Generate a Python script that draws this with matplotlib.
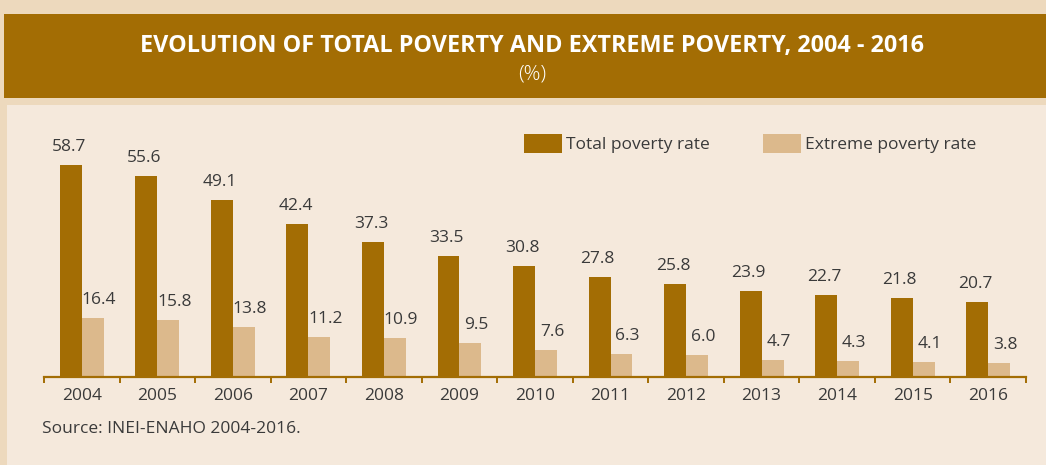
import matplotlib
matplotlib.use("Agg")
import matplotlib.pyplot as plt
from matplotlib.patches import Rectangle
import numpy as np

years = ["2004", "2005", "2006", "2007", "2008", "2009", "2010",
         "2011", "2012", "2013", "2014", "2015", "2016"]
total_poverty = [58.7, 55.6, 49.1, 42.4, 37.3, 33.5, 30.8, 27.8, 25.8, 23.9, 22.7, 21.8, 20.7]
extreme_poverty = [16.4, 15.8, 13.8, 11.2, 10.9, 9.5, 7.6, 6.3, 6.0, 4.7, 4.3, 4.1, 3.8]

title = "EVOLUTION OF TOTAL POVERTY AND EXTREME POVERTY, 2004 - 2016"
subtitle = "(%)"
legend_labels = ["Total poverty rate", "Extreme poverty rate"]
source = "Source: INEI-ENAHO 2004-2016."

C_TOTAL = "#A36D04"
C_EXTREME = "#DCB98C"
C_PANEL = "#F5E9DC"
C_OUTER = "#EDD9BD"
C_TEXT = "#3A3A3A"

W, H = 1046, 465
plt.rcParams['font.family'] = ['Open Sans', 'DejaVu Sans']
fig = plt.figure(figsize=(W / 100, H / 100), dpi=100)
fig.patch.set_facecolor(C_OUTER)

def fx(px):
    return px / W

def fy(py):
    return 1 - py / H

# inner panel
fig.patches.append(Rectangle((fx(7), 0), 1 - fx(7), fy(105), transform=fig.transFigure,
                             facecolor=C_PANEL, edgecolor='none', zorder=-10))
# title band
fig.patches.append(Rectangle((fx(4), fy(98)), 1 - fx(4), fy(14) - fy(98), transform=fig.transFigure,
                             facecolor=C_TOTAL, edgecolor='none', zorder=-10))
fig.text(fx(532), fy(52), title, color='white', fontsize=16.8, fontweight='bold',
         ha='center', va='baseline')
fig.text(fx(532), fy(79), subtitle, color='white', fontsize=15, fontweight='light',
         ha='center', va='baseline')

# axes
ymax = 70
px_per_unit = 3.61
ax_h = ymax * px_per_unit
ax = fig.add_axes([fx(44), fy(377), fx(1026) - fx(44), ax_h / H])
ax.set_facecolor('none')
x = np.arange(len(years))
bw = 0.29
ax.bar(x - bw / 2, total_poverty, width=bw, color=C_TOTAL, zorder=2)
ax.bar(x + bw / 2, extreme_poverty, width=bw, color=C_EXTREME, zorder=2)
ax.set_xlim(-0.5, len(years) - 0.5)
ax.set_ylim(0, ymax)
for s in ['top', 'right', 'left']:
    ax.spines[s].set_visible(False)
ax.spines['bottom'].set_color(C_TOTAL)
ax.spines['bottom'].set_linewidth(1.6)
ax.set_yticks([])
ax.set_xticks(x)
ax.set_xticklabels(years, fontsize=12.5, color=C_TEXT)
ax.tick_params(axis='x', which='major', length=0, pad=8)
ax.set_xticks(np.arange(len(years) + 1) - 0.5, minor=True)
ax.tick_params(axis='x', which='minor', length=4, width=1.4, color=C_TOTAL)

for i in range(len(years)):
    ax.annotate(f"{total_poverty[i]:.1f}", (x[i] - bw / 2, total_poverty[i]),
                xytext=(-2, 14), textcoords='offset pixels', ha='center', va='baseline',
                fontsize=12.5, color=C_TEXT)
    ax.annotate(f"{extreme_poverty[i]:.1f}", (x[i] + bw / 2, extreme_poverty[i]),
                xytext=(6, 14), textcoords='offset pixels', ha='center', va='baseline',
                fontsize=12.5, color=C_TEXT)

# legend
for (x0, lab, col) in [(524, legend_labels[0], C_TOTAL), (763, legend_labels[1], C_EXTREME)]:
    fig.patches.append(Rectangle((fx(x0), fy(153)), fx(38), 19 / H, transform=fig.transFigure,
                                 facecolor=col, edgecolor='none', zorder=1))
    fig.text(fx(x0 + 42), fy(149), lab, fontsize=12.5, color=C_TEXT, ha='left', va='baseline')

fig.text(fx(42), fy(433), source, fontsize=12.5, color=C_TEXT, ha='left', va='baseline')

fig.savefig("out.png", dpi=100, facecolor=fig.get_facecolor())
